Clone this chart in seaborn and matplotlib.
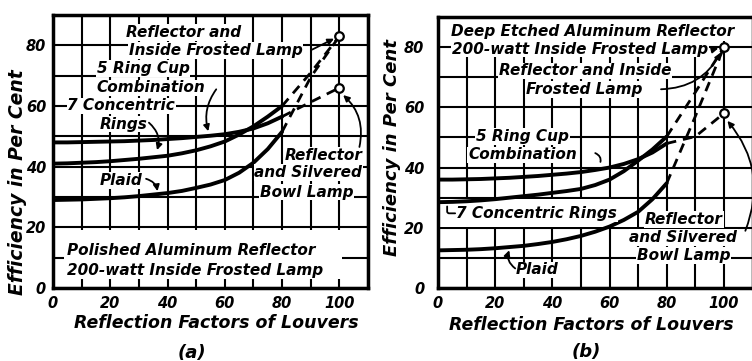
import numpy as np
import pandas as pd
import seaborn as sns
import matplotlib.pyplot as plt
from matplotlib.patches import Rectangle

sns.set_theme(style='white')
plt.rcParams['font.family'] = ['DejaVu Sans']
plt.rcParams['font.style'] = 'italic'
plt.rcParams['font.weight'] = 'bold'
for k in ['text.color', 'axes.labelcolor', 'xtick.color', 'ytick.color']:
    plt.rcParams[k] = 'black'

# reflection factor of louvers (solid part) and dashed extrapolation
x_solid = [0, 5, 10, 15, 20, 25, 30, 35, 40, 45, 50, 55, 60, 65, 70, 75, 80]
x_dash = [80, 90, 100]

# (a) polished aluminum reflector
a_ring5 = [48.0, 48.0, 48.1, 48.2, 48.3, 48.4, 48.6, 48.8, 49.1, 49.4, 49.8, 50.2, 50.7, 51.5, 52.6, 54.3, 56.5]
a_ring7 = [41.0, 41.1, 41.3, 41.5, 41.8, 42.2, 42.6, 43.1, 43.6, 44.4, 45.4, 46.7, 48.3, 50.6, 53.3, 56.5, 60.0]
a_plaid = [29.0, 29.1, 29.2, 29.4, 29.6, 29.9, 30.3, 30.8, 31.3, 32.0, 33.0, 34.1, 35.6, 38.0, 41.3, 45.8, 51.5]
a_ring5_dash = [56.5, 61.3, 66.0]
a_ring7_dash = [60.0, 71.0, 83.0]
a_plaid_dash = [51.5, 69.5, 83.0]
a_lamps = [83.0, 66.0]

# (b) deep etched aluminum reflector
b_ring5 = [36.0, 36.0, 36.1, 36.2, 36.4, 36.6, 36.9, 37.2, 37.6, 38.0, 38.5, 39.2, 40.0, 41.2, 42.8, 45.0, 48.0]
b_ring7 = [28.5, 28.6, 28.8, 29.1, 29.5, 30.0, 30.5, 31.0, 31.6, 32.2, 32.9, 34.2, 36.0, 38.8, 42.3, 46.0, 50.3]
b_plaid = [12.5, 12.6, 12.7, 12.9, 13.2, 13.6, 14.0, 14.6, 15.3, 16.2, 17.3, 18.7, 20.4, 22.6, 25.3, 29.5, 34.8]
b_ring5_dash = [48.0, 50.3, 58.0]
b_ring7_dash = [50.3, 65.0, 80.0]
b_plaid_dash = [34.8, 57.0, 80.0]
b_lamps = [80.0, 58.0]

xticks = list(range(0, 111, 10))
xlabels = ['0', '', '20', '', '40', '', '60', '', '80', '', '100', '']
yticks = list(range(0, 91, 10))
ylabels = ['0', '', '20', '', '40', '', '60', '', '80', '']

fig = plt.figure(figsize=(7.52, 3.61), dpi=100)
ax1 = fig.add_axes([53/752, 1-288/361, (368-53)/752, (288-15)/361])
ax2 = fig.add_axes([438/752, 1-288/361, (752.5-438)/752, (288-17)/361])

box = dict(facecolor='white', edgecolor='none', pad=0.6)
fs = 11


def setup(ax, ypad):
    ax.set_xlim(0, 110)
    ax.set_ylim(0, 90)
    ax.set_xticks(xticks)
    ax.set_xticklabels(xlabels, fontsize=10.5)
    ax.set_yticks(yticks)
    ax.set_yticklabels(ylabels, fontsize=10.5)
    ax.tick_params(length=0)
    ax.tick_params(axis='x', pad=6)
    ax.tick_params(axis='y', pad=ypad)
    ax.set_axisbelow(True)
    ax.grid(True, color='black', lw=1.5)
    for s in ax.spines.values():
        s.set_color('black')
        s.set_linewidth(2.5)


def curves(ax, solids, dashes, lamps):
    for ys in solids:
        sns.lineplot(x=x_solid, y=ys, ax=ax, color='black', lw=2.8, zorder=4)
    for ys in dashes:
        sns.lineplot(x=x_dash, y=ys, ax=ax, color='black', lw=2.0,
                     linestyle=(0, (3.5, 2.5)), zorder=4)
    sns.scatterplot(x=[100] * len(lamps), y=lamps, ax=ax, s=38, color='white',
                    edgecolor='black', linewidth=1.6, zorder=6)


def arrow(ax, xy, xytext, rad=0.0, head=True, style=None):
    conn = style if style else 'arc3,rad=%s' % rad
    ax.annotate('', xy=xy, xytext=xytext,
                arrowprops=dict(arrowstyle='-|>' if head else '-', color='black',
                                lw=1.3, mutation_scale=9, shrinkA=0, shrinkB=2,
                                connectionstyle=conn), zorder=5)


# ---------------- (a)
setup(ax1, 5)
ax1.add_patch(Rectangle((4, 3), 97, 16, facecolor='white', edgecolor='none', zorder=1))
curves(ax1, [a_ring5, a_ring7, a_plaid], [a_ring5_dash, a_ring7_dash, a_plaid_dash], a_lamps)

ax1.text(25.5, 84.2, 'Reflector and', fontsize=fs, va='center', bbox=box, zorder=5)
ax1.text(26.5, 78.3, 'Inside Frosted Lamp', fontsize=fs, va='center', bbox=box, zorder=5)
arrow(ax1, (99.0, 82.6), (90.5, 78.6))
ax1.text(15.3, 72.4, '5 Ring Cup', fontsize=fs, va='center', bbox=box, zorder=5)
ax1.text(15.3, 66.0, 'Combination', fontsize=fs, va='center', bbox=box, zorder=5)
arrow(ax1, (54.5, 50.8), (57.0, 65.5), rad=0.25)
ax1.text(5.0, 60.0, '7 Concentric', fontsize=fs, va='center', bbox=box, zorder=5)
ax1.text(16.4, 54.0, 'Rings', fontsize=fs, va='center', bbox=box, zorder=5)
arrow(ax1, (36.0, 44.6), (33.5, 54.5), rad=-0.35)
ax1.text(16.4, 35.5, 'Plaid', fontsize=fs, va='center', bbox=box, zorder=5)
arrow(ax1, (36.6, 31.0), (32.5, 36.0), rad=-0.35)
ax1.text(108.0, 43.7, 'Reflector', fontsize=fs, va='center', ha='right', bbox=box, zorder=5)
ax1.text(108.0, 38.0, 'and Silvered', fontsize=fs, va='center', ha='right', bbox=box, zorder=5)
ax1.text(105.0, 31.6, 'Bowl Lamp', fontsize=fs, va='center', ha='right', bbox=box, zorder=5)
arrow(ax1, (100.6, 64.2), (107.0, 46.5), rad=0.3)
ax1.text(4.9, 12.5, 'Polished Aluminum Reflector', fontsize=fs, va='center', bbox=box, zorder=5)
ax1.text(4.9, 5.9, '200-watt Inside Frosted Lamp', fontsize=fs, va='center', bbox=box, zorder=5)

# ---------------- (b)
setup(ax2, 10)
ax2.add_patch(Rectangle((4, 82), 106, 8, facecolor='white', edgecolor='none', zorder=1))
ax2.add_patch(Rectangle((0, 20.3), 69.7, 9.4, facecolor='white', edgecolor='none', zorder=1))
curves(ax2, [b_ring5, b_ring7, b_plaid], [b_ring5_dash, b_ring7_dash, b_plaid_dash], b_lamps)

ax2.text(4.5, 85.2, 'Deep Etched Aluminum Reflector', fontsize=fs, va='center', bbox=box, zorder=5)
ax2.text(4.8, 79.3, '200-watt Inside Frosted Lamp', fontsize=fs, va='center', bbox=box, zorder=5)
arrow(ax2, (99.0, 79.8), (96.8, 79.3))
ax2.text(21.3, 72.1, 'Reflector and Inside', fontsize=fs, va='center', bbox=box, zorder=5)
ax2.text(30.8, 66.0, 'Frosted Lamp', fontsize=fs, va='center', bbox=box, zorder=5)
arrow(ax2, (99.3, 79.0), (78.0, 66.0), rad=0.3)
ax2.text(13.3, 50.3, '5 Ring Cup', fontsize=fs, va='center', bbox=box, zorder=5)
ax2.text(10.5, 44.2, 'Combination', fontsize=fs, va='center', bbox=box, zorder=5)
arrow(ax2, (56.5, 41.0), (55.0, 44.8), rad=-0.5, head=False)
ax2.text(6.3, 24.8, '7 Concentric Rings', fontsize=fs, va='center', bbox=box, zorder=5)
arrow(ax2, (3.2, 28.0), (6.0, 24.8), head=False, style='angle,angleA=0,angleB=90,rad=2')
ax2.text(86.0, 22.8, 'Reflector', fontsize=fs, va='center', ha='center', bbox=box, zorder=5)
ax2.text(85.8, 16.8, 'and Silvered', fontsize=fs, va='center', ha='center', bbox=box, zorder=5)
ax2.text(85.8, 10.8, 'Bowl Lamp', fontsize=fs, va='center', ha='center', bbox=box, zorder=5)
arrow(ax2, (100.6, 56.2), (107.5, 19.0), rad=0.3)
ax2.text(27.3, 6.0, 'Plaid', fontsize=fs, va='center', bbox=box, zorder=5)
arrow(ax2, (25.3, 13.4), (27.0, 6.5), rad=-0.4)

# axis titles
fig.text(18/752, 1-182/361, 'Efficiency in Per Cent', rotation=90, fontsize=13.5,
         ha='center', va='center')
fig.text(392/752, 1-148/361, 'Efficiency in Per Cent', rotation=90, fontsize=13,
         ha='center', va='center')
fig.text(216/752, 1-323/361, 'Reflection Factors of Louvers', fontsize=12.5,
         ha='center', va='center')
fig.text(591/752, 1-325/361, 'Reflection Factors of Louvers', fontsize=12.5,
         ha='center', va='center')
fig.text(192/752, 1-353/361, '(a)', fontsize=13, ha='center', va='center')
fig.text(586/752, 1-352/361, '(b)', fontsize=13, ha='center', va='center')

fig.savefig('out.png', dpi=100)
